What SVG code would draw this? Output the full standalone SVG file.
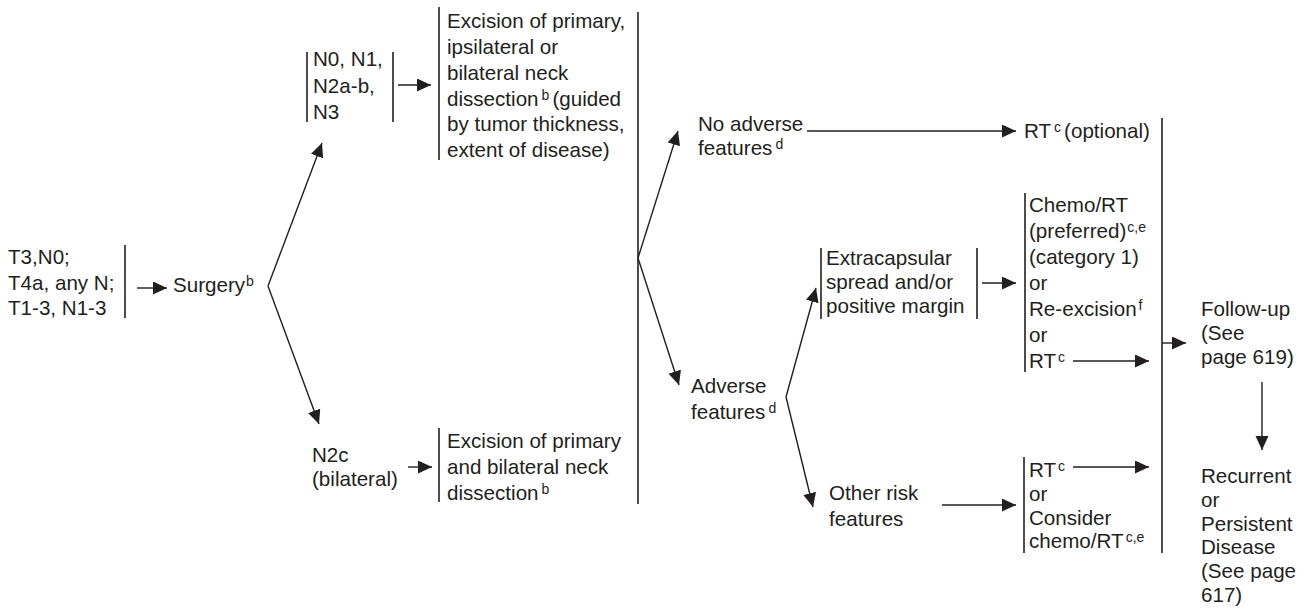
<svg xmlns="http://www.w3.org/2000/svg" width="1312" height="609" viewBox="0 0 1312 609">
  <style>
    text { font-family: "Liberation Sans", Arial, sans-serif; font-size: 20.6px; fill: #231f20; }
    .sup { font-size: 14px; }
    .bar { stroke: #231f20; stroke-width: 1.6; fill: none; }
    .edge { stroke: #231f20; stroke-width: 1.4; fill: none; marker-end: url(#arrow); }
  </style>
  <defs>
    <marker id="arrow" markerUnits="userSpaceOnUse" markerWidth="18" markerHeight="16" refX="14" refY="6.5" orient="auto">
      <path d="M0,0 L14,6.5 L0,13 Z" fill="#231f20"/>
    </marker>
  </defs>
  <rect width="1312" height="609" fill="#ffffff"/>

  <!-- staging entry -->
  <g id="stage">
    <text x="8" y="264">T3,N0;</text>
    <text x="8" y="290">T4a, any N;</text>
    <text x="8" y="315">T1-3, N1-3</text>
    <line class="bar" x1="125" y1="245" x2="125" y2="318"/>
  </g>

  <g id="surgery">
    <text x="173" y="292">Surgery<tspan class="sup" dx="1" dy="-6">b</tspan></text>
  </g>

  <g id="n0-n3">
    <line class="bar" x1="307" y1="52" x2="307" y2="122"/>
    <text x="313" y="66">N0, N1,</text>
    <text x="313" y="92.5">N2a-b,</text>
    <text x="313" y="119">N3</text>
    <line class="bar" x1="393" y1="52" x2="393" y2="122"/>
  </g>

  <g id="excision-ipsi">
    <line class="bar" x1="439" y1="7" x2="439" y2="160"/>
    <text x="447" y="28">Excision of primary,</text>
    <text x="447" y="54">ipsilateral or</text>
    <text x="447" y="80">bilateral neck</text>
    <text x="447" y="106">dissection<tspan class="sup" dx="3" dy="-6">b</tspan><tspan dx="3" dy="6">(guided</tspan></text>
    <text x="447" y="131">by tumor thickness,</text>
    <text x="447" y="157">extent of disease)</text>
  </g>

  <g id="n2c">
    <text x="312" y="462">N2c</text>
    <text x="312" y="486">(bilateral)</text>
  </g>

  <g id="excision-bilateral">
    <line class="bar" x1="439" y1="428" x2="439" y2="502"/>
    <text x="447" y="448">Excision of primary</text>
    <text x="447" y="474">and bilateral neck</text>
    <text x="447" y="500">dissection<tspan class="sup" dx="3" dy="-6">b</tspan></text>
  </g>

  <g id="no-adverse">
    <text x="698" y="131">No adverse</text>
    <text x="698" y="155">features<tspan class="sup" dx="3" dy="-6">d</tspan></text>
  </g>

  <g id="rt-optional">
    <text x="1024" y="138">RT<tspan class="sup" dx="3" dy="-6">c</tspan><tspan dx="3" dy="6">(optional)</tspan></text>
  </g>

  <g id="adverse">
    <text x="691" y="393">Adverse</text>
    <text x="691" y="419">features<tspan class="sup" dx="3" dy="-6">d</tspan></text>
  </g>

  <g id="extracapsular">
    <line class="bar" x1="821" y1="248" x2="821" y2="319"/>
    <text x="826" y="265">Extracapsular</text>
    <text x="826" y="289">spread and/or</text>
    <text x="826" y="313">positive margin</text>
    <line class="bar" x1="977" y1="248" x2="977" y2="319"/>
  </g>

  <g id="chemo-rt">
    <line class="bar" x1="1025" y1="193" x2="1025" y2="372"/>
    <text x="1029" y="212">Chemo/RT</text>
    <text x="1029" y="238">(preferred)<tspan class="sup" dx="1" dy="-6">c,e</tspan></text>
    <text x="1029" y="264">(category 1)</text>
    <text x="1029" y="290">or</text>
    <text x="1029" y="316">Re-excision<tspan class="sup" dx="2" dy="-6">f</tspan></text>
    <text x="1029" y="342">or</text>
    <text x="1029" y="368">RT<tspan class="sup" dx="2" dy="-6">c</tspan></text>
  </g>

  <g id="other-risk">
    <text x="829" y="500">Other risk</text>
    <text x="829" y="526">features</text>
  </g>

  <g id="rt-or-chemo">
    <line class="bar" x1="1024" y1="457" x2="1024" y2="553"/>
    <text x="1029" y="477">RT<tspan class="sup" dx="2" dy="-6">c</tspan></text>
    <text x="1029" y="501">or</text>
    <text x="1029" y="525">Consider</text>
    <text x="1029" y="548">chemo/RT<tspan class="sup" dx="2" dy="-6">c,e</tspan></text>
  </g>

  <g id="follow-up">
    <text x="1201" y="316">Follow-up</text>
    <text x="1201" y="340">(See</text>
    <text x="1201" y="364">page 619)</text>
  </g>

  <g id="recurrent">
    <text x="1201" y="483">Recurrent</text>
    <text x="1201" y="507">or</text>
    <text x="1201" y="531">Persistent</text>
    <text x="1201" y="554">Disease</text>
    <text x="1201" y="578">(See page</text>
    <text x="1201" y="602">617)</text>
  </g>

  <!-- connectors -->
  <g id="connectors">
    <line class="bar" x1="638" y1="12" x2="638" y2="504"/>
    <line class="bar" x1="1162" y1="118" x2="1162" y2="553"/>
    <line class="edge" x1="137" y1="288" x2="167" y2="288"/>
    <line class="edge" x1="268" y1="286" x2="322" y2="143"/>
    <line class="edge" x1="268" y1="286" x2="319" y2="424"/>
    <line class="edge" x1="398" y1="85" x2="431" y2="85"/>
    <line class="edge" x1="408" y1="467" x2="432" y2="467"/>
    <line class="edge" x1="638" y1="258" x2="678" y2="131"/>
    <line class="edge" x1="638" y1="258" x2="679" y2="385"/>
    <line class="edge" x1="807" y1="131" x2="1016" y2="131"/>
    <line class="edge" x1="786" y1="397" x2="816" y2="288"/>
    <line class="edge" x1="786" y1="397" x2="813" y2="507"/>
    <line class="edge" x1="982" y1="283" x2="1016" y2="283"/>
    <line class="edge" x1="1073" y1="361" x2="1149" y2="361"/>
    <line class="edge" x1="942" y1="505" x2="1016" y2="505"/>
    <line class="edge" x1="1073" y1="467" x2="1149" y2="467"/>
    <line class="edge" x1="1162" y1="343" x2="1186" y2="343"/>
    <line class="edge" x1="1262" y1="382" x2="1262" y2="450"/>
  </g>
</svg>
